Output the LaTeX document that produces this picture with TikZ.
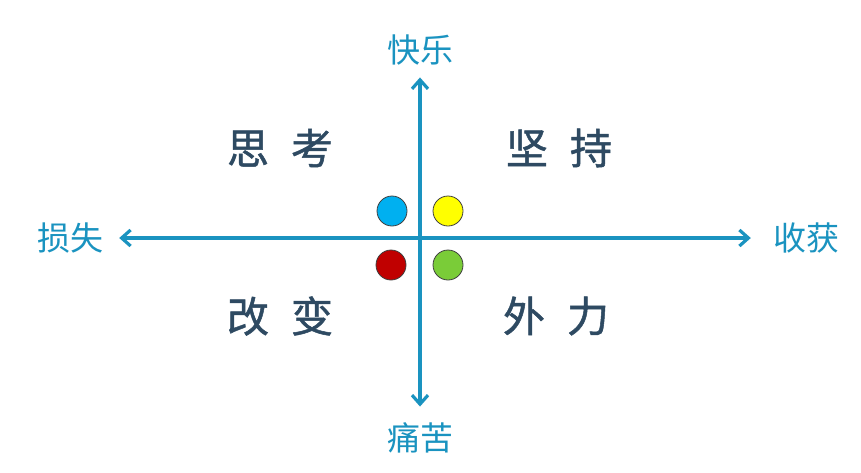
\documentclass[tikz,border=0pt]{standalone}
\usepackage{fontspec}
\setmainfont{Noto Sans CJK SC}
\newfontfamily\quadfont[FakeBold=1.2]{Noto Sans CJK SC}
\usepackage{tikz}
\usetikzlibrary{arrows.meta,positioning}
\definecolor{AxisBlue}{HTML}{1A93C0}
\definecolor{QuadSlate}{HTML}{2E4A62}
\definecolor{DotCyan}{HTML}{00B0F0}
\definecolor{DotYellow}{HTML}{FFFF00}
\definecolor{DotRed}{HTML}{C00000}
\definecolor{DotGreen}{HTML}{7ACC38}

\begin{document}
\begin{tikzpicture}[
  x=1pt, y=-1pt,
  axislabel/.style={
    text=AxisBlue,
    inner sep=0pt,
    font=\fontsize{33}{33}\selectfont
  },
  quadlabel/.style={
    text=QuadSlate,
    inner sep=0pt,
    font=\quadfont\fontsize{42}{42}\selectfont
  },
  dotmark/.style={circle, draw=black!75, line width=0.8pt, minimum size=30pt, inner sep=0pt},
  axisarrow/.style={{Straight Barb[length=9pt,width=16pt]}-{Straight Barb[length=9pt,width=16pt]}, line width=3.2pt, draw=AxisBlue}
]
\useasboundingbox (0,0) rectangle (861,472);
\fill[white] (0,0) rectangle (861,472);
% axis labels
\node[axislabel] (joy) at (420,50) {快乐};
\node[axislabel] (pain) at (420,438) {痛苦};
\node[axislabel] (loss) at (70,238) {损失};
\node[axislabel] (gain) at (806,238) {收获};
% quadrants
\node[quadlabel] (think) at (280,148) {思\hspace{22pt}考};
\node[quadlabel] (persist) at (559,148) {坚\hspace{22pt}持};
\node[quadlabel] (change) at (280,316) {改\hspace{22pt}变};
\node[quadlabel] (force) at (556,316) {外\hspace{22pt}力};
% axes
\draw[axisarrow, shorten <=16pt, shorten >=22pt] (loss) -- (gain);
\draw[axisarrow, shorten <=12pt, shorten >=16pt] (joy) -- (pain);
% dots
\node[dotmark, fill=DotCyan] (cyan) at (392,211) {};
\node[dotmark, fill=DotYellow] (yellow) at (448,211) {};
\node[dotmark, fill=DotRed] (red) at (391,265) {};
\node[dotmark, fill=DotGreen] (green) at (448,265) {};
\end{tikzpicture}
\end{document}
